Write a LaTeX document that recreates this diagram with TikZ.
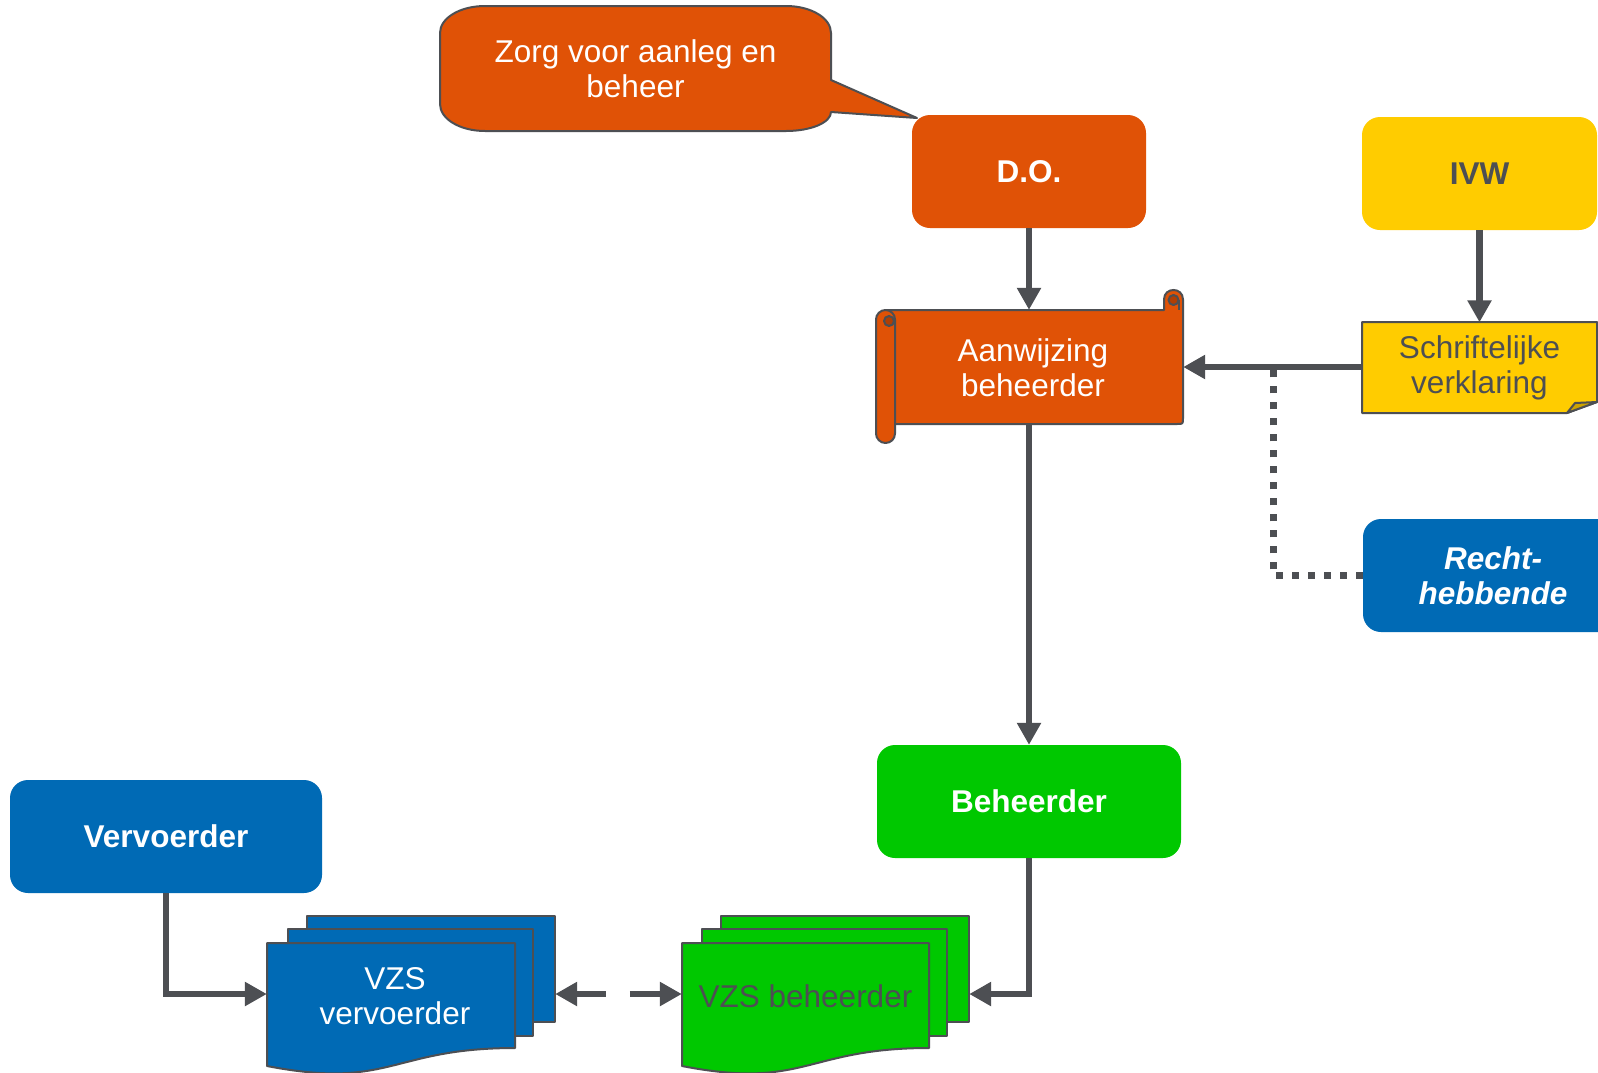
\documentclass[tikz,border=0pt]{standalone}
\usepackage{fontspec}
\setmainfont{Liberation Sans}
\usetikzlibrary{arrows.meta}
\definecolor{dorange}{RGB}{224,82,6}
\definecolor{dyellow}{RGB}{255,204,0}
\definecolor{dblue}{RGB}{0,106,181}
\definecolor{dgreen}{RGB}{0,200,0}
\definecolor{dgray}{RGB}{77,79,83}
\definecolor{dfold}{RGB}{204,163,0}
\definecolor{dcurl}{RGB}{176,62,4}
\newcommand\dfont{\fontsize{31.5}{35}\selectfont}
\tikzset{
  rbox/.style={rounded corners=18pt, draw=none, minimum height=113pt, align=center,
    font=\dfont\bfseries, inner sep=0pt},
  outl/.style={draw=dgray, line width=2pt, line join=round},
  conn/.style={draw=dgray, line width=6.5pt, -{Triangle[length=22pt,width=23pt]}},
  dconn/.style={draw=dgray, line width=6.5pt,
    {Triangle[length=22pt,width=23pt]}-{Triangle[length=22pt,width=23pt]},
    dash pattern=on 30pt off 24pt},
  dotst/.style={draw=dgray, line width=7pt, dash pattern=on 7pt off 9pt},
  txt/.style={font=\dfont, align=center, inner sep=0pt},
  anchorbox/.style={inner sep=0pt, draw=none}
}
\begin{document}
\begin{tikzpicture}[x=1pt,y=-1pt]
\useasboundingbox (0,0) rectangle (1598,1072);
\clip (0,0) rectangle (1598,1072);
\fill[white] (0,0) rectangle (1598,1072);

% callout
\draw[outl, fill=dorange] (485,6) -- (786,6) .. controls (811,6) and (831,18) .. (831,33)
  -- (831,80) -- (917,118) -- (831,112)
  .. controls (831,122.5) and (811,131) .. (786,131) -- (485,131)
  .. controls (460,131) and (440,119) .. (440,104) -- (440,33)
  .. controls (440,18) and (460,6) .. (485,6) -- cycle;
\node[txt, text=white] (zorg) at (635.5,69) {Zorg voor aanleg en\\beheer};

% rounded boxes
\node[rbox, fill=dorange, text=white, minimum width=234pt] (do) at (1029,171.5) {D.O.};
\node[rbox, fill=dyellow, text=dgray, minimum width=235pt] (ivw) at (1479.5,173.5) {IVW};
\node[rbox, fill=dblue, text=white, minimum width=260pt, font=\dfont\bfseries\itshape] (recht) at (1493,575.5) {Recht-\\hebbende};
\node[rbox, fill=dgreen, text=white, minimum width=304pt] (beh) at (1029,801.5) {Beheerder};
\node[rbox, fill=dblue, text=white, minimum width=312pt] (verv) at (166,836.5) {Vervoerder};

% scroll
\draw[outl, fill=dorange] (885,310) -- (1164,310) -- (1164,299.5)
  .. controls (1164,286.8) and (1183,286.8) .. (1183,299.5) -- (1183,418)
  .. controls (1183,424) .. (1177,424) -- (885,424) -- cycle;
\draw[outl, fill=dcurl] (1173.5,300) circle (5pt);
\draw[outl] (1178.5,300) -- (1178.5,310);
\draw[outl, fill=dorange, rounded corners=9.5pt] (876,310) rectangle (895,443);
\draw[outl, fill=dcurl] (889,321) circle (5pt);
\node[txt, text=white, minimum width=307pt, minimum height=114pt] (aan) at (1029.5,367) {};
\node[txt, text=white] (aant) at (1033,368) {Aanwijzing\\beheerder};

% note
\draw[outl, fill=dyellow] (1362,322) -- (1597,322) -- (1597,402) -- (1567,413) -- (1362,413) -- cycle;
\draw[outl, fill=dfold] (1567,413) -- (1575,403) -- (1597,402) -- cycle;
\node[txt, text=dgray, minimum width=235pt, minimum height=91pt] (note) at (1479.5,368) {Schriftelijke\\verklaring};

% multidocument stacks
\draw[outl, fill=dblue] (307,916) rectangle (555,1022);
\draw[outl, fill=dblue] (288,929) rectangle (533,1036);
\draw[outl, fill=dblue] (267,943) -- (515,943) -- (515,1048)
  .. controls (391,1048) and (391,1090) .. (267,1066) -- cycle;
\node[anchorbox, minimum width=288pt, minimum height=156pt] (vzsv) at (411,994) {};
\node[txt, text=white] (vzsvt) at (395,996) {VZS\\vervoerder};

\draw[outl, fill=dgreen] (721,916) rectangle (969,1022);
\draw[outl, fill=dgreen] (702,929) rectangle (947,1036);
\draw[outl, fill=dgreen] (682,943) -- (929,943) -- (929,1048)
  .. controls (805.5,1048) and (805.5,1090) .. (682,1066) -- cycle;
\node[anchorbox, minimum width=287pt, minimum height=156pt] (vzsb) at (825.5,994) {};
\node[txt, text=dgray] (vzsbt) at (805.5,996) {VZS beheerder};

% connectors
\coordinate (jn) at (1273,370);
\draw[dotst] (recht.west) -| (jn);
\draw[conn] (do) -- (do |- aan.north);
\draw[conn] (ivw) -- (ivw |- note.north);
\draw[conn] (note.west |- aan.east) -- (aan.east);
\draw[conn] (aan.south -| beh.north) -- (beh.north);
\draw[conn] (beh.south) |- (vzsb.east);
\draw[conn] (verv.south) |- (vzsv.west);
\draw[dconn] (vzsv.east) -- (vzsb.west);
\end{tikzpicture}
\end{document}
